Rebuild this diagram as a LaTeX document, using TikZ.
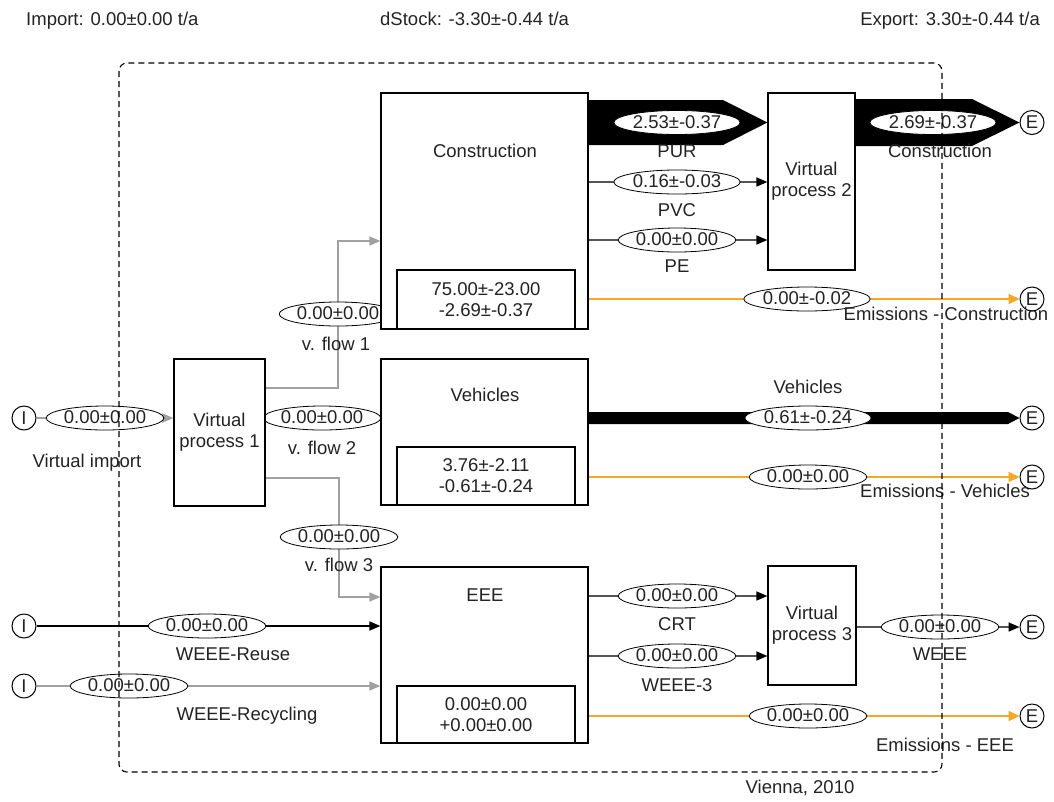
\documentclass[tikz,border=0pt]{standalone}
\usepackage{fontspec}
\setmainfont{Liberation Sans}
\usetikzlibrary{arrows.meta,shapes.geometric,calc}
\pgfdeclarelayer{background}
\pgfsetlayers{background,main}
\definecolor{emis}{RGB}{245,168,40}
\definecolor{lgray}{RGB}{160,160,160}
\definecolor{dgray}{RGB}{85,85,85}
\definecolor{txt}{RGB}{35,35,35}
\begin{document}
\begin{tikzpicture}[x=1pt,y=-1pt,
  every node/.style={font=\fontsize{18.5}{21}\selectfont, text=txt},
  proc/.style={draw, fill=white, line width=1.2pt, inner sep=0pt, align=center},
  stockbox/.style={draw, fill=white, line width=1.2pt, minimum width=178pt, align=center, inner sep=0pt},
  val/.style={ellipse, draw, fill=white, line width=0.8pt, inner xsep=0.5pt, inner ysep=0pt, text height=13pt, text depth=2pt, minimum height=24pt},
  term/.style={circle, draw, line width=1pt, minimum size=24pt, inner sep=0pt},
  lbl/.style={inner sep=0pt, text height=13pt, text depth=3.5pt},
  gflow/.style={draw=lgray, line width=1.6pt, -{Triangle[length=11pt,width=9pt]}},
  dflow/.style={draw=dgray, line width=1.6pt, -{Triangle[length=11pt,width=9pt,color=black]}},
  bflow/.style={draw=black, line width=1.6pt, -{Triangle[length=11pt,width=9pt]}},
  eflow/.style={draw=emis, line width=2pt, -{Triangle[length=11pt,width=10pt]}},
  boundary/.style={draw=black, line width=1.1pt, dash pattern=on 6pt off 4pt, rounded corners=8pt}
]
\useasboundingbox (0,0) rectangle (1054,801);

% header texts
\node[lbl, anchor=west] (imp) at (26,21) {Import: 0.00±0.00 t/a};
\node[lbl, anchor=west] (dst) at (380,21) {dStock: -3.30±-0.44 t/a};
\node[lbl, anchor=east] (exp) at (1040,21) {Export: 3.30±-0.44 t/a};

% processes
\node[proc, minimum width=207pt, minimum height=236pt] (constr) at (484.5,211) {};
\node[lbl] (constrT) at (485,153) {Construction};
\node[stockbox, minimum height=59pt] (constrS) at (486,299.5) {75.00±-23.00\\-2.69±-0.37};

\node[proc, minimum width=207pt, minimum height=146pt] (veh) at (484.5,432) {};
\node[lbl] (vehT) at (485,397) {Vehicles};
\node[stockbox, minimum height=58pt] (vehS) at (486,476) {3.76±-2.11\\-0.61±-0.24};

\node[proc, minimum width=207pt, minimum height=176pt] (eee) at (484.5,655) {};
\node[lbl] (eeeT) at (485,597) {EEE};
\node[stockbox, minimum height=57pt] (eeeS) at (486,714.5) {0.00±0.00\\+0.00±0.00};

\node[proc, minimum width=91pt, minimum height=147pt] (vp1) at (219.5,432.5) {Virtual\\process 1};
\node[proc, minimum width=87pt, minimum height=177pt] (vp2) at (811.5,181.5) {Virtual\\process 2};
\node[proc, minimum width=88pt, minimum height=119pt] (vp3) at (812,625.5) {Virtual\\process 3};

% terminals
\node[term] (e1) at (1032,122.5) {E};
\node[term] (e2) at (1032,299) {E};
\node[term] (e3) at (1032,418) {E};
\node[term] (e4) at (1032,477) {E};
\node[term] (e5) at (1032,627) {E};
\node[term] (e6) at (1032,716) {E};
\node[term] (i1) at (24,418) {I};
\node[term] (i2) at (24,626) {I};
\node[term] (i3) at (24,686) {I};

\coordinate (vf1a) at (338,388);
\coordinate (vf1b) at (338,241);
\coordinate (vf3a) at (339,478);
\coordinate (vf3b) at (339,597);

\begin{pgfonlayer}{background}
% thick flows
\fill[black] (constr.east |- 0,100) -- (723,100) -- (vp2.west |- 0,122.5) -- (723,145) -- (constr.east |- 0,145) -- cycle;
\fill[black] (vp2.east |- 0,99) -- (972,99) -- (e1.west) -- (972,146) -- (vp2.east |- 0,146) -- cycle;
\fill[black] (veh.east |- 0,412) -- (1008,412) -- (e3.west) -- (1008,424) -- (veh.east |- 0,424) -- cycle;
% thin flows
\draw[dflow] (constr.east |- 0,182) -- (vp2.west |- 0,182);
\draw[dflow] (constr.east |- 0,240) -- (vp2.west |- 0,240);
\draw[eflow] (constr.east |- e2) -- (e2);
\draw[eflow] (veh.east |- e4) -- (e4);
\draw[eflow] (eee.east |- e6) -- (e6);
\draw[dflow] (eee.east |- 0,596) -- (vp3.west |- 0,596);
\draw[dflow] (eee.east |- 0,656) -- (vp3.west |- 0,656);
\draw[dflow] (vp3.east |- e5) -- (e5);
\draw[gflow] (i1) -- (vp1.west |- i1);
\draw[gflow] (vp1.east |- vf1a) -- (vf1a) -- (vf1b) -- (constr.west |- vf1b);
\draw[gflow] (vp1.east |- i1) -- (veh.west |- i1);
\draw[gflow] (vp1.east |- vf3a) -- (vf3a) -- (vf3b) -- (eee.west |- vf3b);
\draw[bflow] (i2) -- (eee.west |- i2);
\draw[gflow] (i3) -- (eee.west |- i3);
% value ellipses
\node[val] (vPUR) at (677,122.5) {2.53±-0.37};
\node[val] (vPVC) at (677,182) {0.16±-0.03};
\node[val] (vPE) at (677,240) {0.00±0.00};
\node[val] (vCX) at (933,122.5) {2.69±-0.37};
\node[val] (vEC) at (807,299) {0.00±-0.02};
\node[val] (vVE) at (808,418) {0.61±-0.24};
\node[val] (vEV) at (808,477) {0.00±0.00};
\node[val] (vCRT) at (677,596) {0.00±0.00};
\node[val] (vW3) at (677,656) {0.00±0.00};
\node[val] (vWE) at (940,627) {0.00±0.00};
\node[val] (vEE) at (808,716) {0.00±0.00};
\node[val] (vVI) at (105,418) {0.00±0.00};
\node[val] (vF1) at (338,314) {0.00±0.00};
\node[val] (vF2) at (322,418) {0.00±0.00};
\node[val] (vF3) at (339,537) {0.00±0.00};
\node[val] (vWR) at (207,626) {0.00±0.00};
\node[val] (vWC) at (129,686) {0.00±0.00};
\end{pgfonlayer}

% flow names
\node[lbl] (nPUR) at (677,153) {PUR};
\node[lbl] (nPVC) at (677,212) {PVC};
\node[lbl] (nPE) at (677,268) {PE};
\node[lbl] (nCX) at (940,153) {Construction};
\node[lbl] (nEC) at (946,316) {Emissions - Construction};
\node[lbl] (nVE) at (808,389) {Vehicles};
\node[lbl] (nEV) at (945,493) {Emissions - Vehicles};
\node[lbl] (nCRT) at (677,626) {CRT};
\node[lbl] (nW3) at (677,687) {WEEE-3};
\node[lbl] (nWE) at (940,656) {WEEE};
\node[lbl] (nEE) at (945,747) {Emissions - EEE};
\node[lbl] (nVI) at (87,463) {Virtual import};
\node[lbl] (nF1) at (336,346) {v. flow 1};
\node[lbl] (nF2) at (322,450) {v. flow 2};
\node[lbl] (nF3) at (339,567) {v. flow 3};
\node[lbl] (nWR) at (233,656) {WEEE-Reuse};
\node[lbl] (nWC) at (247,716) {WEEE-Recycling};
\node[lbl] (vienna) at (800,789) {Vienna, 2010};

% system boundary
\draw[boundary] (119,63) rectangle (942,772);
\end{tikzpicture}
\end{document}
